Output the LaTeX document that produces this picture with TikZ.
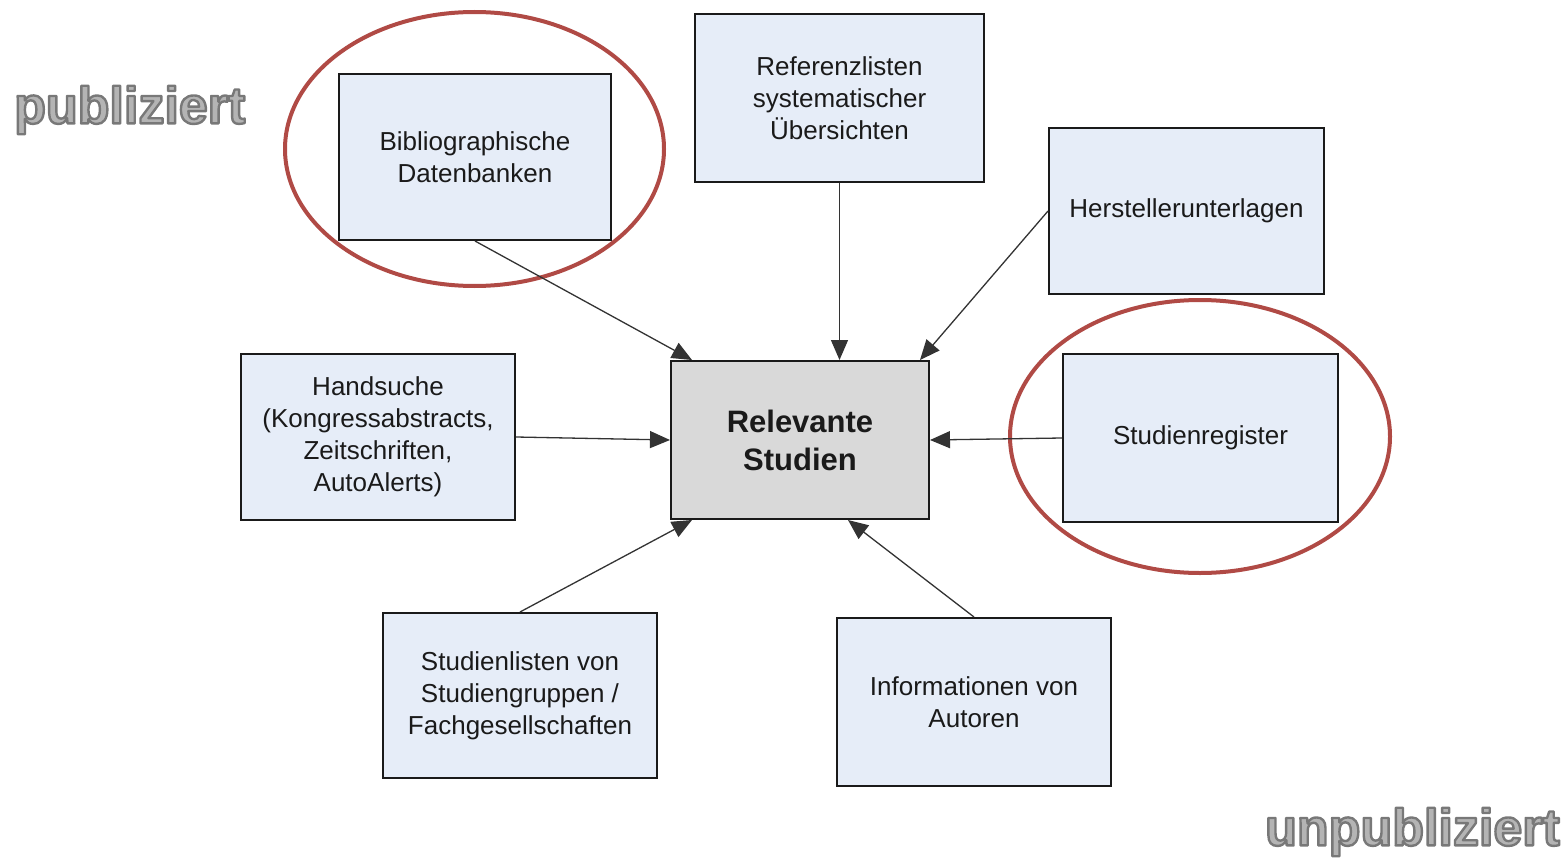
\documentclass[tikz,border=0pt]{standalone}
\usepackage{fontspec}
\setmainfont{Liberation Sans}
\usetikzlibrary{arrows.meta}
\definecolor{boxfill}{HTML}{E6EDF8}
\definecolor{relfill}{HTML}{D9D9D9}
\definecolor{ringred}{HTML}{B04A45}
\definecolor{edgegray}{HTML}{333333}
\definecolor{txtdark}{HTML}{1A1A1A}
\definecolor{fillgray}{HTML}{B4B4B4}
\tikzset{
  srcbox/.style={draw=txtdark, line width=2pt, fill=boxfill, inner sep=0pt,
    align=center, text=txtdark, font=\fontsize{26}{32}\selectfont},
  relbox/.style={draw=txtdark, line width=2pt, fill=relfill, inner sep=0pt,
    align=center, text=txtdark, font=\fontsize{31}{38}\selectfont\bfseries},
  ring/.style={draw=ringred, line width=4pt},
  feed/.style={draw=edgegray, line width=1.3pt, -{Triangle[length=20pt,width=17pt]}},
  bigword/.style={font=\fontsize{52}{60}\selectfont\bfseries, inner sep=0pt, text=fillgray},
}
\newcommand{\outlinetext}[1]{%
  \special{pdf:literal direct 2 Tr 2.4 w 1 j 0.47 0.47 0.47 RG}#1\special{pdf:literal direct 0 Tr}}
\begin{document}
\begin{tikzpicture}[x=1pt,y=-1pt]
\useasboundingbox (0,0) rectangle (1567,859);

% nodes
\node[srcbox, minimum width=272pt, minimum height=166pt] (bib) at (475,157) {Bibliographische\\Datenbanken};
\node[srcbox, minimum width=289pt, minimum height=168pt] (ref) at (839.5,98) {Referenzlisten\\systematischer\\Übersichten};
\node[srcbox, minimum width=275pt, minimum height=166pt] (her) at (1186.5,211) {Herstellerunterlagen};
\node[srcbox, minimum width=274pt, minimum height=166pt] (hand) at (378,437) {Handsuche\\(Kongressabstracts,\\Zeitschriften,\\AutoAlerts)};
\node[relbox, minimum width=258pt, minimum height=158pt] (rel) at (800,440) {Relevante\\Studien};
\node[srcbox, minimum width=275pt, minimum height=168pt] (reg) at (1200.5,438) {Studienregister};
\node[srcbox, minimum width=274pt, minimum height=165pt] (sl) at (520,695.5) {Studienlisten von\\Studiengruppen /\\Fachgesellschaften};
\node[srcbox, minimum width=274pt, minimum height=168pt] (inf) at (974,702) {Informationen von\\Autoren};

% highlight rings
\draw[ring] (474.5,149) ellipse [x radius=189.5pt, y radius=137pt];
\draw[ring] (1200,436.5) ellipse [x radius=190pt, y radius=136.5pt];

% connectors
\draw[feed] (bib.south) -- ([xshift=22pt]rel.north west);
\draw[feed] (ref.south) -- (ref.south |- rel.north);
\draw[feed] (her.west) -- ([xshift=-10pt]rel.north east);
\draw[feed] (hand.east) -- (rel.west);
\draw[feed] (reg.west) -- (rel.east);
\draw[feed] (sl.north) -- ([xshift=22pt]rel.south west);
\draw[feed] (inf.north) -- ([xshift=-82pt]rel.south east);

% labels
\node[bigword, anchor=west] (pub) at (14,110) {\outlinetext{publiziert}};
\node[bigword, anchor=east] (unpub) at (1560,832) {\outlinetext{unpubliziert}};
\end{tikzpicture}
\end{document}
